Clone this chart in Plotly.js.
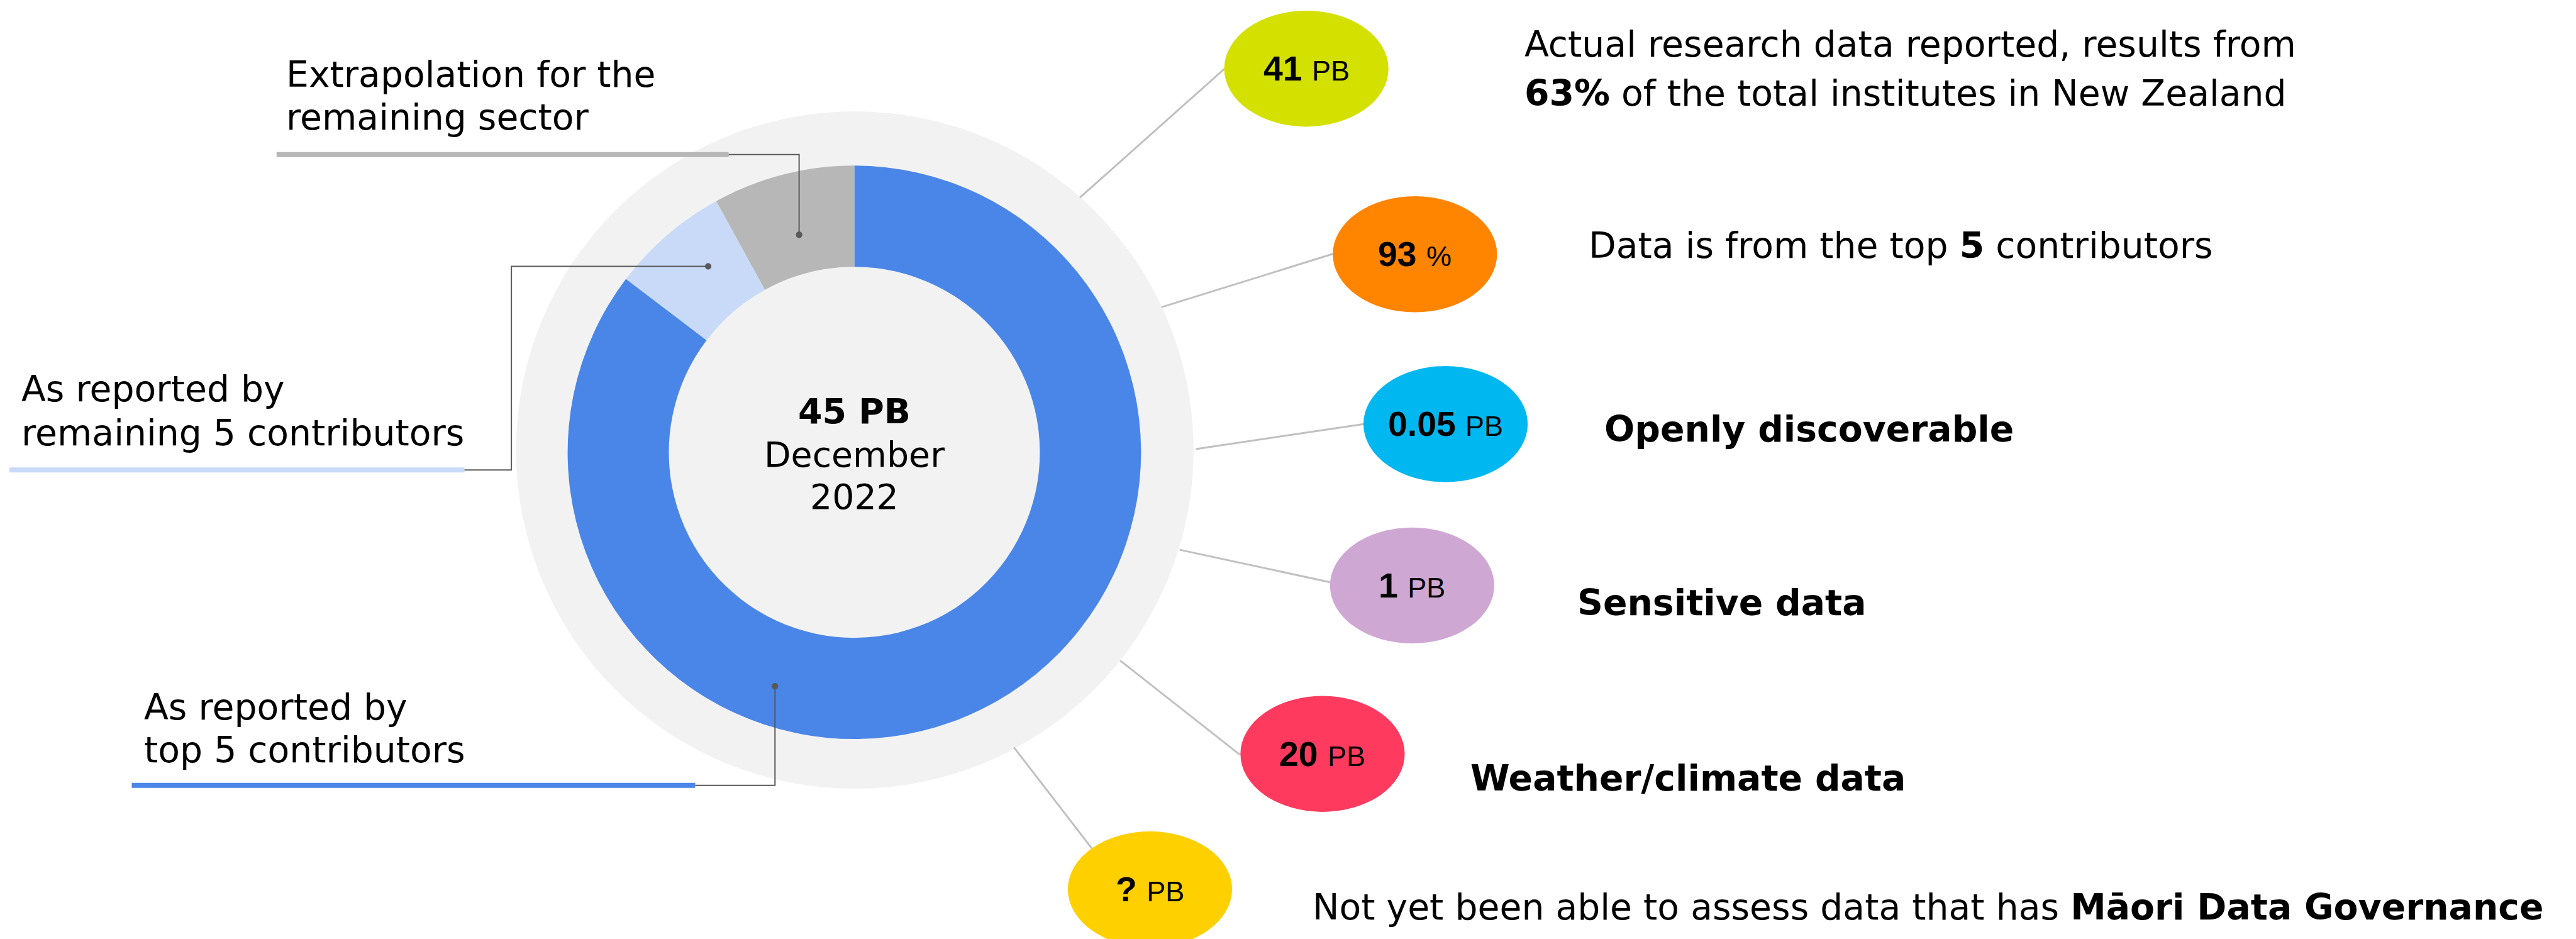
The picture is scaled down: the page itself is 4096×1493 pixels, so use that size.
<!DOCTYPE html>
<html>
<head>
<meta charset="utf-8">
<script src="https://cdn.plot.ly/plotly-3.0.1.min.js"></script>
<style>html,body{margin:0;padding:0;background:#fff;}#chart{width:4096px;height:1493px;}</style>
</head>
<body>
<div id="chart"></div>
<script>
// ---------------- data ----------------
const segmentLabels = ['As reported by top 5 contributors', 'As reported by remaining 5 contributors', 'Extrapolation for the remaining sector'];
const segmentValues = [38.4, 3.0, 3.6];   // PB
const segmentColors = ['#4a86e8', '#c9daf8', '#b7b7b7'];

const totalLabel = '45 PB';
const totalDate = ['December', '2022'];

const bubbleValues = ['41', '93', '0.05', '1', '20', '?'];
const bubbleUnits  = ['PB', '%', 'PB', 'PB', 'PB', 'PB'];
const bubbleColors = ['#d4e000', '#ff8400', '#00b8ef', '#cea8d3', '#ff3a5f', '#ffd000'];
const bubbleNotes = [
  ['Actual research data reported, results from', '<b>63%</b> of the total institutes in New Zealand'],
  ['Data is from the top <b>5</b> contributors'],
  ['<b>Openly discoverable</b>'],
  ['<b>Sensitive data</b>'],
  ['<b>Weather/climate data</b>'],
  ['Not yet been able to assess data that has <b>Māori Data Governance</b>']
];
const segmentCallouts = [
  ['As reported by', 'top 5 contributors'],
  ['As reported by', 'remaining 5 contributors'],
  ['Extrapolation for the', 'remaining sector']
];

// ---------------- layout geometry (reference px 5551x2024) ----------------
const RW = 5551, RH = 2024, S = 4096 / RW;
const px = X => X / RW;
const py = Y => 1 - Y / RH;
const fsz = f => f * S;

const donut = {cx: 1841, cy: 975, r: 618};
const disc = {cx: 1842, cy: 970, r: 730};

const bubbleCenters = [[2815,148],[3049,548],[3115,914],[3043,1262],[2850,1625],[2478,1917]];
const bubbleRx = 177, bubbleRy = 125;
const bubbleLinks = [[2327,426,2639,148],[2503,662,2873,547],[2577,968,2939,914],[2542,1185,2866,1255],[2414,1424,2672,1627],[2185,1611,2353,1829]];
const notePos = [[3282,[121,227]],[3420,[555]],[3454,[951]],[3396,[1326]],[3166,[1704]],[2825,[1981]]];

const calloutText = [[308,[1550,1642]],[44,[864,959]],[614,[186,279]]];
const calloutBars = [[284,1498,1693],[20,1001,1013],[596,1570,333]];
const calloutPaths = [
  [[1498,1693],[1670,1693],[1670,1479]],
  [[1001,1013],[1102,1013],[1102,574],[1526,574]],
  [[1570,333],[1722,333],[1722,506]]
];

const FONT = 'DejaVu Sans, Verdana, sans-serif';
const AFONT = 'Liberation Sans, Arial, sans-serif';
const TXT = 77;

const shapes = [];
const annotations = [];

// background disc
shapes.push({type:'circle', xref:'paper', yref:'paper', layer:'below',
  x0:px(disc.cx-disc.r), x1:px(disc.cx+disc.r), y0:py(disc.cy+disc.r), y1:py(disc.cy-disc.r),
  fillcolor:'#f2f2f2', line:{width:0}});

function ann(text, X, baseY, size, anchor, family) {
  annotations.push({xref:'paper', yref:'paper', x:px(X), y:py(baseY - 0.346*size),
    xanchor:anchor||'left', yanchor:'middle', showarrow:false, text:text,
    font:{family:family||FONT, size:fsz(size), color:'#000'}});
}

// bubble links + bubbles
bubbleLinks.forEach(l => shapes.push({type:'line', xref:'paper', yref:'paper',
  x0:px(l[0]), y0:py(l[1]), x1:px(l[2]), y1:py(l[3]), line:{color:'#c0c0c0', width:3}}));
bubbleCenters.forEach((c,i) => {
  shapes.push({type:'circle', xref:'paper', yref:'paper',
    x0:px(c[0]-bubbleRx), x1:px(c[0]+bubbleRx), y0:py(c[1]+bubbleRy), y1:py(c[1]-bubbleRy),
    fillcolor:bubbleColors[i], line:{width:0}});
  annotations.push({xref:'paper', yref:'paper', x:px(c[0]), y:py(c[1]), xanchor:'center', yanchor:'middle',
    showarrow:false, text:'<b>'+bubbleValues[i]+'</b> <span style="font-size:'+fsz(61).toFixed(1)+'px">'+bubbleUnits[i]+'</span>',
    font:{family:AFONT, size:fsz(75), color:'#000'}});
  notePos[i][1].forEach((b,j) => ann(bubbleNotes[i][j], notePos[i][0], b, TXT));
});

// segment callouts
calloutBars.forEach((b,i) => shapes.push({type:'line', xref:'paper', yref:'paper',
  x0:px(b[0]), x1:px(b[1]), y0:py(b[2]), y1:py(b[2]), line:{color:segmentColors[i], width:8}}));
calloutPaths.forEach(p => {
  let d = p.map((q,k) => (k?'L':'M') + (q[0]*S).toFixed(1) + ',' + (q[1]*S).toFixed(1)).join(' ');
  shapes.push({type:'path', xref:'paper', yref:'paper', xsizemode:'scaled', path:
    p.map((q,k) => (k?'L':'M') + px(q[0]) + ',' + py(q[1])).join(' '), line:{color:'#595959', width:2}});
  const e = p[p.length-1], r = 7;
  shapes.push({type:'circle', xref:'paper', yref:'paper', x0:px(e[0]-r), x1:px(e[0]+r), y0:py(e[1]+r), y1:py(e[1]-r),
    fillcolor:'#595959', line:{width:0}});
});
calloutText.forEach((c,i) => c[1].forEach((b,j) => ann(segmentCallouts[i][j], c[0], b, TXT)));

// centre text
ann('<b>'+totalLabel+'</b>', donut.cx, 913, 75, 'center');
ann(totalDate[0], donut.cx, 1006, 75, 'center');
ann(totalDate[1], donut.cx, 1097, 75, 'center');

const trace = {
  type:'pie', values:segmentValues, labels:segmentLabels, marker:{colors:segmentColors, line:{width:0}},
  hole:0.647, sort:false, direction:'clockwise', rotation:0, textinfo:'none', hoverinfo:'label+value',
  domain:{x:[px(donut.cx-donut.r), px(donut.cx+donut.r)], y:[py(donut.cy+donut.r), py(donut.cy-donut.r)]}
};

Plotly.newPlot('chart', [trace], {
  width:4096, height:1493, margin:{l:0,r:0,t:0,b:0}, showlegend:false,
  paper_bgcolor:'#ffffff', plot_bgcolor:'#ffffff', shapes:shapes, annotations:annotations
}, {displayModeBar:false, staticPlot:true});
</script>
</body>
</html>
